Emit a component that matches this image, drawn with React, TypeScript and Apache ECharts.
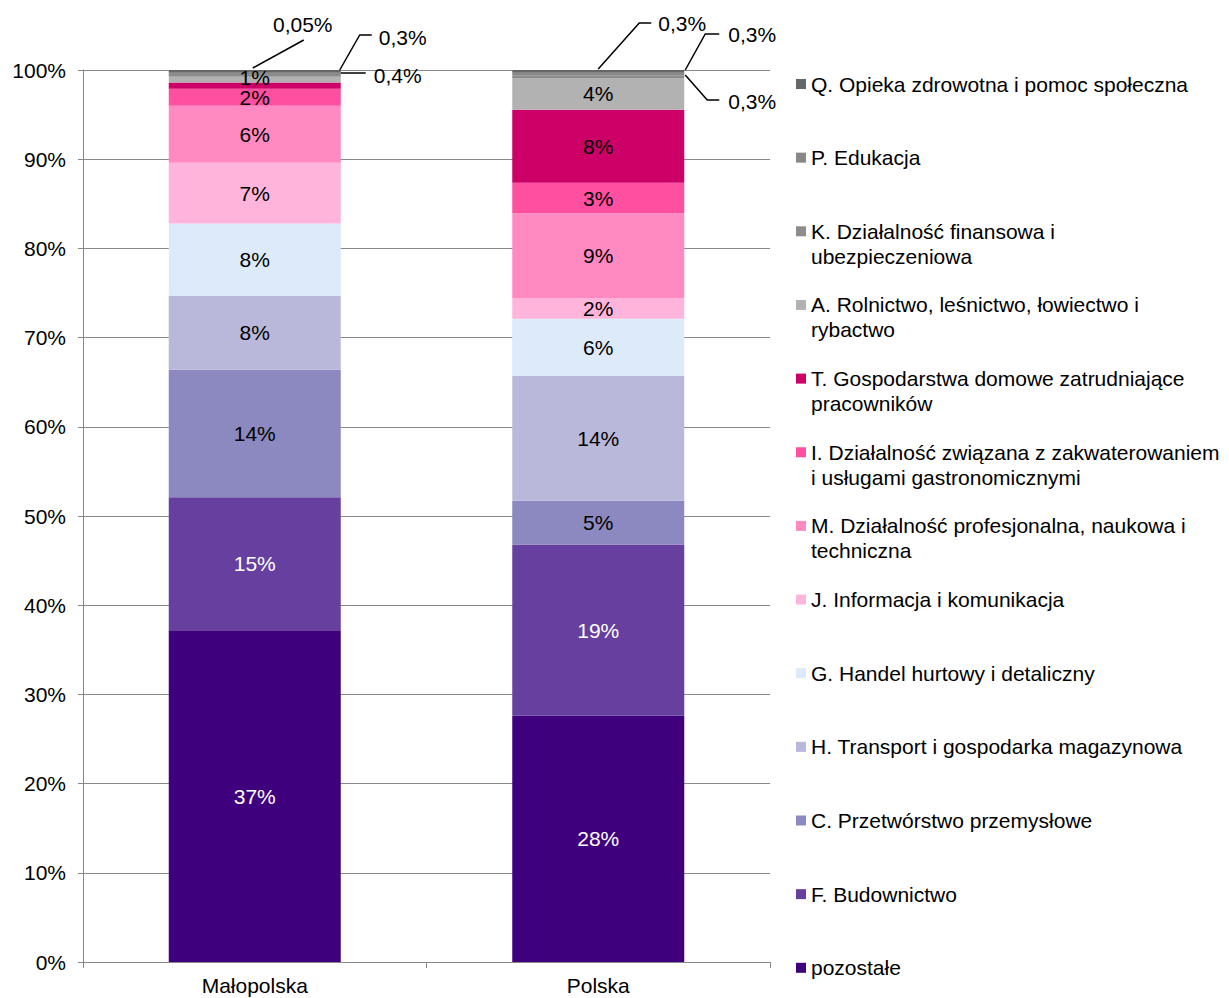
import React, { useEffect, useRef } from "react";
import * as echarts from "echarts";

const categories = ["Małopolska", "Polska"];

// bottom to top
const seriesNames = [
  "pozostałe",
  "F. Budownictwo",
  "C. Przetwórstwo przemysłowe",
  "H. Transport i gospodarka magazynowa",
  "G. Handel hurtowy i detaliczny",
  "J. Informacja i komunikacja",
  "M. Działalność profesjonalna, naukowa i techniczna",
  "I. Działalność związana z zakwaterowaniem i usługami gastronomicznymi",
  "T. Gospodarstwa domowe zatrudniające pracowników",
  "A. Rolnictwo, leśnictwo, łowiectwo i rybactwo",
  "K. Działalność finansowa i ubezpieczeniowa",
  "P. Edukacja",
  "Q. Opieka zdrowotna i pomoc społeczna",
];

const legendTexts = [
  "pozostałe",
  "F. Budownictwo",
  "C. Przetwórstwo przemysłowe",
  "H. Transport i gospodarka magazynowa",
  "G. Handel hurtowy i detaliczny",
  "J. Informacja i komunikacja",
  "M. Działalność profesjonalna, naukowa i\ntechniczna",
  "I. Działalność związana z zakwaterowaniem\ni usługami gastronomicznymi",
  "T. Gospodarstwa domowe zatrudniające\npracowników",
  "A. Rolnictwo, leśnictwo, łowiectwo i\nrybactwo",
  "K. Działalność finansowa i\nubezpieczeniowa",
  "P. Edukacja",
  "Q. Opieka zdrowotna i pomoc społeczna",
];

const malopolska = [37.2, 14.9, 14.3, 8.3, 8.1, 6.8, 6.4, 1.9, 0.7, 0.65, 0.4, 0.05, 0.3];
const polska = [27.6, 19.2, 4.9, 14.0, 6.4, 2.35, 9.5, 3.4, 8.2, 3.55, 0.3, 0.3, 0.3];

const malopolskaLabels = ["37%", "15%", "14%", "8%", "8%", "7%", "6%", "2%", "", "1%", "0,4%", "0,05%", "0,3%"];
const polskaLabels = ["28%", "19%", "5%", "14%", "6%", "2%", "9%", "3%", "8%", "4%", "0,3%", "0,3%", "0,3%"];

const yTicks = [0, 10, 20, 30, 40, 50, 60, 70, 80, 90, 100];

const colors = [
  "#3F007D",
  "#663F9F",
  "#8B89BF",
  "#BAB8DA",
  "#DDEAFA",
  "#FFB5DB",
  "#FF8AC1",
  "#FF4FA1",
  "#CC0066",
  "#B2B2B2",
  "#8C8C8C",
  "#888888",
  "#666666",
];

const FONT = "'Liberation Sans', Arial, sans-serif";
const FS = 21;

// label offsets (relative to the top-left of the segment) for the tiny segments
const smallLabelPos: Record<string, [number, number]> = {
  "0-10": [229, 2],
  "0-11": [134, -48],
  "0-12": [234, -33],
  "1-10": [240, 26],
  "1-11": [240, -38],
  "1-12": [170, -47],
};

// leader line offsets relative to the bar's 100% point (bar centre)
const leaderLines: { cat: number; pts: [number, number][] }[] = [
  { cat: 0, pts: [[-2, -2], [49, -30]] },
  { cat: 0, pts: [[85, 0], [105, -35], [117, -35]] },
  { cat: 0, pts: [[86, 3], [111, 3]] },
  { cat: 1, pts: [[0, -1], [41, -47], [53, -47]] },
  { cat: 1, pts: [[87, 0], [107, -36], [121, -36]] },
  { cat: 1, pts: [[87, 5], [109, 30], [121, 30]] },
];

export default function App() {
  const ref = useRef<HTMLDivElement>(null);

  useEffect(() => {
    if (!ref.current) return;
    const chart = echarts.init(ref.current, undefined, { renderer: "svg" });

    const series = seriesNames.map((name, si) => {
      const vals = [malopolska[si], polska[si]];
      const labs = [malopolskaLabels[si], polskaLabels[si]];
      return {
        name,
        type: "bar",
        stack: "total",
        barWidth: 172,
        itemStyle: { color: colors[si] },
        data: vals.map((v, ci) => {
          const key = `${ci}-${si}`;
          const item: any = { value: v };
          if (labs[ci] === "") {
            item.label = { show: false };
          } else if (smallLabelPos[key]) {
            item.label = {
              show: true,
              position: smallLabelPos[key],
              align: "center",
              verticalAlign: "middle",
              color: "#000",
            };
          } else if (key === "0-9") {
            item.label = { show: true, offset: [0, -2] };
          }
          return item;
        }),
        label: {
          show: true,
          position: "inside",
          fontSize: FS,
          fontFamily: FONT,
          color: si < 2 ? "#fff" : "#000",
          formatter: (p: any) => (p.dataIndex === 0 ? malopolskaLabels[si] : polskaLabels[si]),
        },
        emphasis: { disabled: true },
      };
    });

    const LH = 25;
    const legends = seriesNames.map((name, si) => {
      const order = seriesNames.length - 1 - si; // top to bottom position
      const center = 84 + order * 73.65;
      const multi = legendTexts[si].includes("\n");
      return {
        data: [name],
        orient: "vertical",
        left: 796,
        top: multi ? center - 1.5 * LH : center - LH / 2,
        padding: 0,
        itemWidth: 10,
        itemHeight: 10,
        itemGap: 0,
        icon: "rect",
        selectedMode: false,
        formatter: () => (multi ? "\n" + legendTexts[si] : legendTexts[si]),
        textStyle: {
          fontSize: FS,
          fontFamily: FONT,
          color: "#000",
          lineHeight: LH,
        },
      };
    });

    chart.setOption({
      animation: false,
      textStyle: { fontFamily: FONT },
      grid: { left: 83, right: 459, top: 70, bottom: 36, containLabel: false },
      legend: legends,
      xAxis: {
        type: "category",
        data: categories,
        axisLine: { lineStyle: { color: "#888", width: 1 } },
        axisTick: { show: true, length: 6, lineStyle: { color: "#888" } },
        axisLabel: { fontSize: FS, color: "#000", margin: 13, fontFamily: FONT },
      },
      yAxis: {
        type: "value",
        min: yTicks[0],
        max: yTicks[yTicks.length - 1],
        interval: 10,
        axisLine: { show: true, lineStyle: { color: "#888", width: 1 } },
        axisTick: { show: true, length: 5, lineStyle: { color: "#888" } },
        axisLabel: {
          fontSize: FS,
          color: "#000",
          margin: 17,
          fontFamily: FONT,
          formatter: (v: number) => `${v}%`,
        },
        splitLine: { show: true, lineStyle: { color: "#888", width: 1 } },
      },
      series,
    });

    const graphics = leaderLines.map((l) => {
      const anchor = chart.convertToPixel({ gridIndex: 0 } as any, [l.cat, 100]) as number[];
      return {
        type: "polyline",
        silent: true,
        z: 100,
        shape: { points: l.pts.map(([dx, dy]) => [anchor[0] + dx, anchor[1] + dy]) },
        style: { stroke: "#000", lineWidth: 1.5, fill: null },
      };
    });
    chart.setOption({ graphic: graphics });

    return () => chart.dispose();
  }, []);

  return (
    <div
      ref={ref}
      style={{ position: "fixed", left: 0, top: 0, width: 1229, height: 998, background: "#fff" }}
    />
  );
}
